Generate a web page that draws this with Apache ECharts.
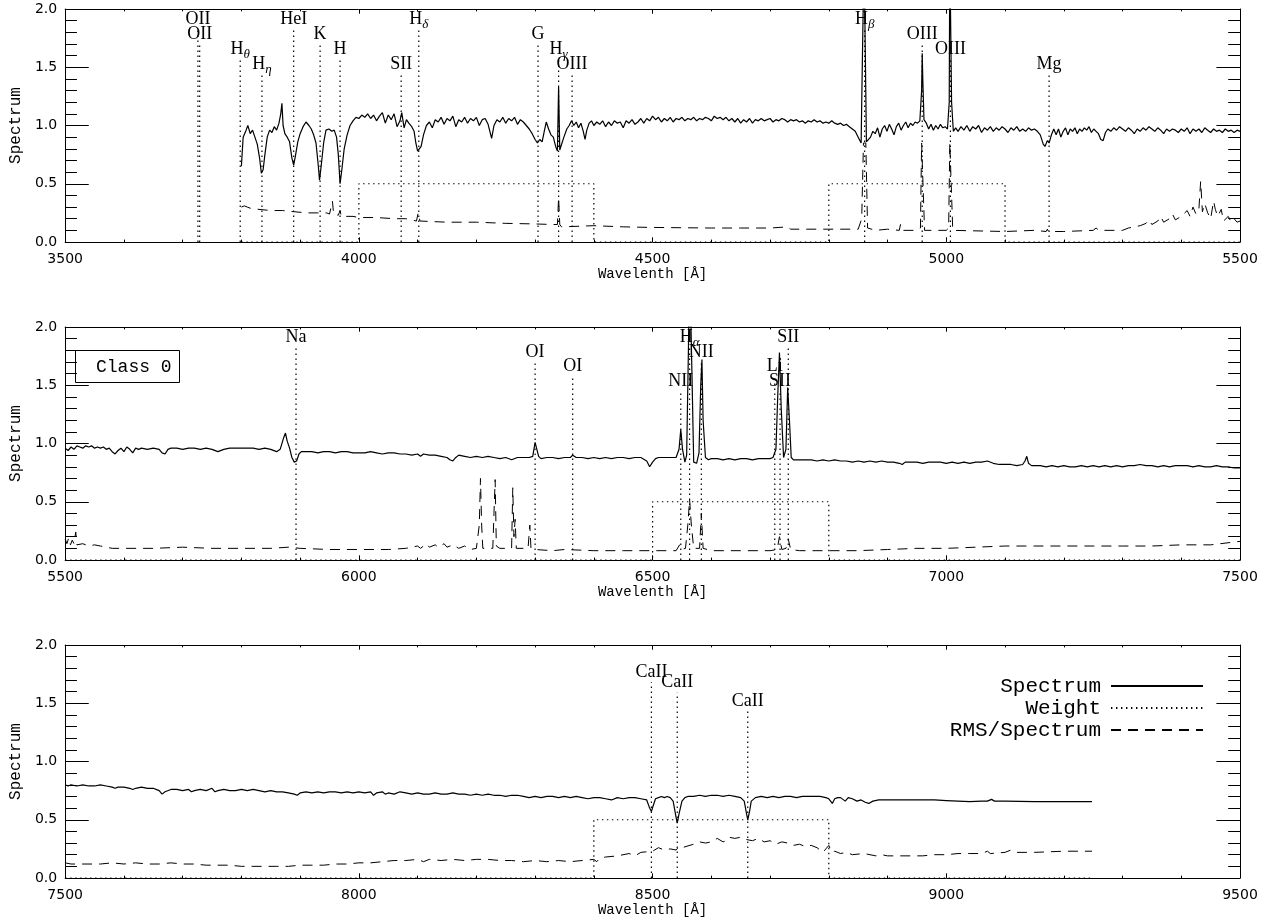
<!DOCTYPE html>
<html><head><meta charset="utf-8">
<script src="https://cdn.jsdelivr.net/npm/echarts@6/dist/echarts.min.js"></script>
<style>html,body{margin:0;padding:0;background:#fff}#c{width:1266px;height:922px}</style>
</head><body><div id="c"></div>
<script>
// ---------- DATA ----------
const xRanges = [[3500, 5500], [5500, 7500], [7500, 9500]];
const yRange = [0, 2];
const xTitle = 'Wavelenth [Å]';
const yTitle = 'Spectrum';
const boxLabel = 'Class 0';
const legendNames = ['Spectrum', 'Weight', 'RMS/Spectrum'];

const spec1 = [[3800,0.65],[3803,0.90],[3808,0.96],[3811,1.00],[3815,0.93],[3819,0.96],[3823,0.90],[3827,0.84],[3831,0.72],[3834,0.59],[3837,0.62],[3840,0.75],[3844,0.90],[3848,0.96],[3852,0.94],[3856,0.99],[3860,0.96],[3864,1.02],[3867,1.10],[3869,1.19],[3871,1.00],[3874,0.93],[3878,0.90],[3882,0.86],[3886,0.72],[3889,0.66],[3892,0.74],[3896,0.86],[3900,0.93],[3905,0.99],[3910,1.03],[3915,1.00],[3919,0.97],[3923,0.92],[3927,0.85],[3931,0.65],[3933,0.53],[3936,0.66],[3940,0.85],[3944,0.96],[3949,0.97],[3954,0.95],[3958,0.96],[3962,0.90],[3965,0.75],[3968,0.50],[3971,0.62],[3975,0.80],[3980,0.92],[3985,1.00],[3990,1.04],[3995,1.07],[4000,1.06],[4005,1.09],[4010,1.07],[4015,1.10],[4020,1.06],[4025,1.09],[4030,1.04],[4035,1.08],[4040,1.11],[4045,1.02],[4050,1.09],[4055,1.05],[4060,1.10],[4065,0.99],[4070,1.04],[4073,1.11],[4077,0.98],[4081,1.05],[4085,1.02],[4090,0.99],[4094,0.95],[4097,0.85],[4100,0.78],[4103,0.79],[4106,0.82],[4110,0.92],[4115,1.00],[4120,1.03],[4125,0.98],[4130,1.05],[4135,1.03],[4140,1.07],[4145,1.01],[4150,1.06],[4155,1.04],[4160,1.08],[4165,0.99],[4170,1.05],[4175,1.03],[4180,1.07],[4185,1.02],[4190,1.06],[4195,1.04],[4200,1.07],[4205,1.00],[4210,1.05],[4215,1.06],[4220,1.01],[4226,0.89],[4230,1.00],[4235,1.05],[4240,1.03],[4245,1.07],[4250,1.02],[4255,1.06],[4260,1.04],[4265,1.07],[4270,1.01],[4275,1.05],[4280,1.03],[4285,1.00],[4290,0.97],[4295,0.93],[4300,0.88],[4304,0.85],[4308,0.88],[4312,0.86],[4316,0.96],[4319,1.03],[4323,0.97],[4327,0.92],[4331,0.90],[4335,0.82],[4338,0.78],[4340,1.33],[4342,0.79],[4345,0.80],[4349,0.90],[4354,0.97],[4358,1.00],[4362,1.04],[4366,1.00],[4370,1.03],[4374,0.98],[4378,1.02],[4382,0.95],[4385,0.88],[4388,0.96],[4392,1.02],[4396,1.04],[4400,1.00],[4405,1.03],[4410,1.01],[4415,1.04],[4420,0.99],[4425,1.03],[4430,1.00],[4435,1.04],[4440,1.02],[4445,1.03],[4450,0.98],[4455,1.04],[4460,1.02],[4465,1.05],[4470,1.01],[4475,1.03],[4480,1.06],[4485,1.02],[4490,1.06],[4495,1.04],[4500,1.08],[4505,1.05],[4510,1.07],[4515,1.03],[4520,1.06],[4525,1.04],[4530,1.07],[4535,1.03],[4540,1.06],[4545,1.05],[4550,1.07],[4555,1.04],[4560,1.06],[4565,1.05],[4570,1.07],[4575,1.04],[4580,1.06],[4585,1.05],[4590,1.07],[4595,1.06],[4600,1.04],[4605,1.08],[4610,1.06],[4615,1.07],[4620,1.05],[4625,1.07],[4630,1.04],[4635,1.06],[4640,1.03],[4645,1.06],[4650,1.02],[4655,1.05],[4660,1.03],[4665,1.06],[4670,1.02],[4675,1.05],[4680,1.04],[4685,1.06],[4690,1.04],[4695,1.05],[4700,1.06],[4705,1.03],[4710,1.05],[4715,1.04],[4720,1.06],[4725,1.05],[4730,1.03],[4735,1.05],[4740,1.04],[4745,1.05],[4750,1.03],[4755,1.04],[4760,1.02],[4765,1.04],[4770,1.03],[4775,1.05],[4780,1.03],[4785,1.04],[4790,1.02],[4795,1.03],[4800,1.02],[4805,1.04],[4810,1.02],[4815,1.01],[4820,1.02],[4825,1.00],[4830,1.01],[4835,0.99],[4840,0.97],[4845,0.95],[4850,0.90],[4855,0.85],[4858,0.86],[4860,2.50],[4862,2.50],[4864,0.86],[4867,0.85],[4871,0.90],[4875,0.95],[4879,0.93],[4883,0.98],[4887,0.90],[4891,0.97],[4895,1.00],[4899,0.95],[4903,1.01],[4907,0.97],[4911,0.92],[4915,0.99],[4919,1.02],[4923,0.96],[4927,1.00],[4931,1.03],[4935,0.98],[4939,1.02],[4943,1.00],[4947,1.03],[4951,1.02],[4955,1.04],[4958,1.30],[4959,1.62],[4960,1.40],[4962,1.05],[4966,1.02],[4970,0.97],[4974,1.01],[4978,0.96],[4982,1.00],[4986,0.97],[4990,1.01],[4994,0.98],[4998,0.99],[5002,0.97],[5005,1.20],[5006,2.50],[5008,2.50],[5009,1.20],[5012,0.95],[5016,0.98],[5020,0.95],[5025,0.99],[5030,0.96],[5035,1.00],[5040,0.95],[5045,0.99],[5050,0.97],[5055,1.00],[5060,0.94],[5065,0.98],[5070,0.96],[5075,0.99],[5080,0.95],[5085,0.98],[5090,0.96],[5095,0.99],[5100,0.97],[5105,0.94],[5110,0.98],[5115,0.96],[5120,0.99],[5125,0.95],[5130,0.97],[5135,0.95],[5140,0.98],[5145,0.96],[5150,0.97],[5155,0.95],[5160,0.92],[5165,0.84],[5168,0.82],[5172,0.87],[5175,0.85],[5179,0.92],[5183,0.97],[5187,0.92],[5191,0.97],[5195,0.90],[5199,0.95],[5203,0.98],[5207,0.92],[5211,0.97],[5215,0.95],[5219,0.98],[5223,0.93],[5227,0.97],[5231,0.95],[5235,0.98],[5239,0.96],[5243,0.99],[5247,0.94],[5251,0.97],[5255,0.95],[5259,0.93],[5263,0.88],[5267,0.87],[5271,0.94],[5275,0.97],[5280,0.95],[5285,0.98],[5290,0.96],[5295,0.99],[5300,0.97],[5305,0.95],[5310,0.98],[5315,0.96],[5320,0.93],[5325,0.97],[5330,0.95],[5335,0.98],[5340,0.96],[5345,0.99],[5350,0.97],[5355,0.95],[5360,0.98],[5365,0.96],[5370,0.93],[5375,0.97],[5380,0.95],[5385,0.97],[5390,0.96],[5395,0.94],[5400,0.97],[5405,0.95],[5410,0.98],[5415,0.93],[5420,0.97],[5425,0.95],[5430,0.97],[5435,0.94],[5440,0.98],[5445,0.96],[5450,0.94],[5455,0.97],[5460,0.95],[5465,0.96],[5470,0.94],[5475,0.97],[5480,0.95],[5485,0.96],[5490,0.94],[5495,0.96],[5500,0.95]];

const rms1 = [[3800,0.30],[3805,0.31],[3810,0.30],[3815,0.29],[3830,0.28],[3850,0.27],[3870,0.27],[3890,0.26],[3910,0.25],[3930,0.25],[3945,0.25],[3950,0.24],[3955,0.35],[3957,0.24],[3965,0.23],[3968,0.27],[3970,0.22],[3990,0.22],[4000,0.21],[4030,0.21],[4060,0.20],[4080,0.20],[4098,0.18],[4101,0.25],[4104,0.18],[4150,0.17],[4200,0.17],[4250,0.16],[4300,0.155],[4330,0.15],[4338,0.15],[4340,0.38],[4342,0.15],[4345,0.13],[4400,0.14],[4450,0.13],[4500,0.125],[4600,0.12],[4650,0.12],[4700,0.12],[4730,0.13],[4735,0.11],[4800,0.11],[4850,0.11],[4856,0.20],[4859,0.85],[4863,0.85],[4866,0.12],[4880,0.10],[4900,0.11],[4920,0.10],[4922,0.15],[4924,0.10],[4950,0.10],[4956,0.12],[4958,0.85],[4961,0.85],[4963,0.10],[5000,0.10],[5004,0.12],[5006,0.85],[5009,0.85],[5011,0.10],[5100,0.09],[5150,0.10],[5170,0.09],[5172,0.11],[5174,0.09],[5200,0.09],[5250,0.10],[5255,0.12],[5260,0.10],[5300,0.10],[5310,0.12],[5320,0.13],[5330,0.14],[5340,0.16],[5345,0.19],[5350,0.15],[5360,0.18],[5365,0.22],[5370,0.17],[5380,0.20],[5385,0.24],[5390,0.19],[5400,0.22],[5410,0.27],[5415,0.22],[5420,0.30],[5425,0.24],[5430,0.28],[5433,0.52],[5436,0.26],[5440,0.33],[5445,0.25],[5450,0.20],[5455,0.35],[5458,0.28],[5462,0.22],[5468,0.28],[5472,0.18],[5480,0.22],[5485,0.17],[5490,0.20],[5495,0.17],[5500,0.18]];

const weight1 = [[3800,0],[4000,0],[4000,0.5],[4400,0.5],[4400,0],[4800,0],[4800,0.5],[5100,0.5],[5100,0],[5500,0]];

const spec2 = [[5500,0.96],[5505,0.94],[5510,0.97],[5515,0.95],[5520,0.98],[5525,0.97],[5530,0.96],[5535,0.98],[5540,0.97],[5545,0.98],[5550,0.96],[5555,0.97],[5560,0.96],[5565,0.97],[5570,0.95],[5575,0.96],[5580,0.93],[5585,0.91],[5590,0.94],[5595,0.96],[5600,0.93],[5605,0.97],[5610,0.95],[5615,0.92],[5620,0.96],[5625,0.95],[5630,0.96],[5640,0.95],[5650,0.96],[5660,0.95],[5665,0.92],[5670,0.91],[5675,0.95],[5680,0.96],[5690,0.96],[5700,0.95],[5710,0.96],[5720,0.96],[5730,0.95],[5740,0.96],[5750,0.95],[5760,0.93],[5770,0.95],[5780,0.96],[5790,0.96],[5800,0.96],[5810,0.96],[5820,0.96],[5830,0.95],[5840,0.96],[5850,0.95],[5860,0.93],[5866,0.95],[5872,1.05],[5875,1.09],[5878,1.02],[5882,0.96],[5886,0.88],[5890,0.84],[5894,0.85],[5898,0.91],[5902,0.93],[5910,0.93],[5920,0.93],[5930,0.92],[5940,0.93],[5950,0.93],[5960,0.92],[5970,0.93],[5980,0.93],[5990,0.92],[6000,0.92],[6010,0.92],[6020,0.93],[6030,0.92],[6040,0.91],[6050,0.92],[6060,0.92],[6070,0.91],[6080,0.91],[6090,0.90],[6100,0.91],[6105,0.89],[6110,0.91],[6120,0.90],[6130,0.90],[6140,0.89],[6150,0.88],[6155,0.86],[6160,0.85],[6165,0.88],[6170,0.90],[6180,0.89],[6190,0.88],[6200,0.89],[6210,0.88],[6220,0.89],[6230,0.88],[6240,0.87],[6250,0.88],[6260,0.86],[6270,0.88],[6280,0.88],[6290,0.88],[6296,0.89],[6300,1.01],[6303,0.95],[6306,0.89],[6310,0.87],[6320,0.88],[6330,0.88],[6340,0.87],[6350,0.88],[6360,0.88],[6364,0.90],[6370,0.88],[6380,0.88],[6390,0.87],[6400,0.88],[6410,0.87],[6420,0.88],[6430,0.87],[6440,0.88],[6450,0.88],[6460,0.87],[6470,0.88],[6480,0.88],[6490,0.85],[6495,0.80],[6500,0.84],[6505,0.87],[6510,0.88],[6520,0.88],[6530,0.88],[6540,0.88],[6545,0.95],[6548,1.12],[6551,0.95],[6555,0.84],[6558,0.90],[6561,1.80],[6563,2.60],[6565,2.60],[6567,1.60],[6570,0.84],[6575,0.83],[6579,0.92],[6582,1.50],[6584,1.72],[6586,1.20],[6590,0.88],[6595,0.86],[6600,0.87],[6610,0.87],[6620,0.86],[6630,0.87],[6640,0.86],[6650,0.87],[6660,0.87],[6670,0.86],[6680,0.87],[6690,0.87],[6700,0.87],[6705,0.88],[6710,0.95],[6713,1.40],[6716,1.78],[6719,1.30],[6723,0.88],[6727,0.95],[6730,1.48],[6733,1.20],[6736,0.88],[6740,0.86],[6750,0.86],[6760,0.86],[6770,0.86],[6780,0.85],[6790,0.86],[6800,0.85],[6810,0.86],[6820,0.85],[6830,0.85],[6840,0.84],[6850,0.85],[6860,0.84],[6870,0.85],[6880,0.84],[6890,0.85],[6900,0.84],[6910,0.84],[6920,0.83],[6925,0.82],[6930,0.84],[6940,0.84],[6950,0.84],[6960,0.83],[6970,0.84],[6980,0.84],[6990,0.84],[7000,0.83],[7010,0.84],[7020,0.83],[7030,0.84],[7040,0.83],[7050,0.84],[7060,0.84],[7070,0.85],[7080,0.83],[7090,0.82],[7100,0.82],[7110,0.82],[7120,0.81],[7130,0.82],[7134,0.85],[7137,0.89],[7140,0.83],[7145,0.81],[7150,0.81],[7160,0.81],[7170,0.80],[7180,0.81],[7190,0.80],[7200,0.81],[7210,0.80],[7220,0.80],[7230,0.81],[7240,0.80],[7250,0.81],[7260,0.80],[7270,0.81],[7280,0.80],[7290,0.81],[7300,0.80],[7310,0.81],[7320,0.81],[7330,0.82],[7340,0.81],[7350,0.81],[7360,0.80],[7370,0.81],[7380,0.80],[7390,0.81],[7400,0.81],[7410,0.81],[7420,0.80],[7430,0.81],[7440,0.80],[7450,0.80],[7460,0.81],[7470,0.80],[7480,0.80],[7490,0.79],[7500,0.79]];

const rms2 = [[5500,0.18],[5503,0.14],[5506,0.19],[5509,0.13],[5512,0.17],[5515,0.14],[5518,0.24],[5520,0.13],[5530,0.14],[5540,0.12],[5550,0.13],[5560,0.12],[5580,0.10],[5600,0.10],[5650,0.10],[5700,0.11],[5750,0.10],[5800,0.10],[5850,0.10],[5880,0.11],[5900,0.10],[5950,0.09],[6000,0.09],[6050,0.09],[6080,0.10],[6100,0.12],[6105,0.10],[6115,0.14],[6120,0.11],[6130,0.13],[6135,0.11],[6145,0.14],[6150,0.11],[6160,0.13],[6170,0.10],[6180,0.12],[6190,0.09],[6200,0.10],[6205,0.30],[6207,0.70],[6209,0.30],[6211,0.10],[6228,0.10],[6230,0.40],[6232,0.69],[6234,0.12],[6240,0.10],[6260,0.10],[6262,0.62],[6264,0.20],[6266,0.35],[6268,0.10],[6288,0.10],[6291,0.30],[6293,0.10],[6300,0.09],[6330,0.08],[6350,0.09],[6400,0.08],[6450,0.08],[6500,0.08],[6540,0.08],[6546,0.13],[6549,0.09],[6556,0.10],[6560,0.30],[6563,0.52],[6566,0.30],[6570,0.10],[6580,0.10],[6583,0.40],[6586,0.10],[6600,0.08],[6650,0.08],[6700,0.08],[6712,0.09],[6716,0.20],[6720,0.09],[6727,0.10],[6731,0.18],[6735,0.09],[6750,0.08],[6800,0.08],[6850,0.08],[6900,0.09],[6950,0.10],[7000,0.10],[7050,0.11],[7100,0.12],[7150,0.12],[7200,0.12],[7250,0.12],[7300,0.12],[7350,0.12],[7400,0.13],[7450,0.13],[7500,0.16]];

const weight2 = [[5500,0],[6500,0],[6500,0.5],[6800,0.5],[6800,0],[7500,0]];

const spec3 = [[7500,0.80],[7505,0.79],[7510,0.80],[7520,0.79],[7530,0.80],[7540,0.79],[7550,0.79],[7560,0.80],[7570,0.79],[7580,0.78],[7585,0.77],[7590,0.78],[7600,0.78],[7610,0.77],[7615,0.76],[7620,0.77],[7630,0.78],[7640,0.77],[7650,0.77],[7660,0.75],[7665,0.72],[7670,0.74],[7680,0.76],[7690,0.76],[7700,0.75],[7710,0.76],[7715,0.74],[7720,0.75],[7730,0.76],[7740,0.75],[7750,0.77],[7755,0.74],[7760,0.75],[7770,0.76],[7780,0.75],[7790,0.75],[7800,0.76],[7810,0.75],[7820,0.76],[7830,0.75],[7840,0.74],[7850,0.75],[7860,0.74],[7870,0.74],[7880,0.73],[7890,0.72],[7895,0.71],[7900,0.73],[7910,0.74],[7920,0.73],[7930,0.74],[7940,0.73],[7950,0.74],[7960,0.74],[7970,0.73],[7980,0.74],[7990,0.73],[8000,0.74],[8010,0.73],[8020,0.74],[8025,0.71],[8030,0.73],[8040,0.74],[8045,0.72],[8050,0.73],[8060,0.72],[8070,0.74],[8080,0.73],[8090,0.72],[8100,0.73],[8110,0.72],[8120,0.72],[8130,0.73],[8140,0.72],[8150,0.72],[8160,0.73],[8170,0.72],[8180,0.72],[8190,0.71],[8200,0.72],[8210,0.71],[8220,0.72],[8230,0.71],[8240,0.71],[8250,0.70],[8260,0.71],[8270,0.71],[8280,0.70],[8290,0.69],[8300,0.70],[8310,0.69],[8320,0.70],[8330,0.70],[8340,0.69],[8350,0.70],[8360,0.69],[8370,0.70],[8380,0.69],[8390,0.68],[8400,0.69],[8410,0.69],[8420,0.68],[8430,0.67],[8440,0.69],[8450,0.68],[8460,0.69],[8470,0.69],[8480,0.68],[8490,0.67],[8495,0.60],[8498,0.57],[8501,0.62],[8505,0.68],[8510,0.69],[8515,0.70],[8520,0.69],[8525,0.70],[8530,0.69],[8535,0.66],[8540,0.52],[8542,0.47],[8545,0.55],[8550,0.66],[8555,0.69],[8560,0.70],[8570,0.70],[8580,0.71],[8590,0.70],[8600,0.71],[8610,0.71],[8620,0.70],[8630,0.71],[8640,0.70],[8650,0.69],[8656,0.66],[8660,0.55],[8662,0.50],[8665,0.57],[8668,0.66],[8675,0.69],[8685,0.70],[8695,0.69],[8705,0.70],[8715,0.69],[8725,0.70],[8735,0.70],[8745,0.69],[8755,0.70],[8765,0.70],[8775,0.70],[8785,0.70],[8795,0.69],[8800,0.68],[8806,0.64],[8810,0.68],[8815,0.69],[8820,0.69],[8828,0.66],[8833,0.69],[8840,0.68],[8848,0.66],[8855,0.67],[8862,0.65],[8868,0.64],[8875,0.66],[8885,0.67],[8900,0.67],[8920,0.67],[8940,0.67],[8960,0.67],[8980,0.67],[9000,0.665],[9020,0.66],[9040,0.655],[9060,0.66],[9070,0.66],[9077,0.675],[9082,0.66],[9100,0.66],[9150,0.655],[9200,0.655],[9248,0.655]];

const rms3 = [[7500,0.13],[7510,0.12],[7530,0.12],[7560,0.12],[7580,0.13],[7600,0.12],[7620,0.13],[7640,0.12],[7660,0.12],[7680,0.13],[7700,0.12],[7720,0.12],[7740,0.11],[7760,0.11],[7780,0.11],[7800,0.10],[7820,0.10],[7840,0.10],[7860,0.10],[7880,0.10],[7900,0.11],[7920,0.11],[7940,0.11],[7960,0.12],[7980,0.12],[8000,0.13],[8020,0.13],[8040,0.14],[8060,0.15],[8080,0.15],[8100,0.16],[8110,0.14],[8120,0.16],[8140,0.15],[8160,0.16],[8180,0.15],[8200,0.16],[8220,0.16],[8240,0.15],[8260,0.15],[8280,0.14],[8300,0.15],[8320,0.14],[8340,0.15],[8360,0.14],[8380,0.15],[8400,0.16],[8405,0.14],[8410,0.17],[8420,0.18],[8440,0.19],[8460,0.21],[8470,0.19],[8480,0.22],[8500,0.23],[8510,0.26],[8520,0.24],[8530,0.25],[8540,0.24],[8545,0.27],[8550,0.26],[8570,0.29],[8580,0.31],[8590,0.30],[8600,0.31],[8610,0.34],[8620,0.31],[8625,0.32],[8630,0.35],[8640,0.34],[8650,0.35],[8660,0.33],[8670,0.32],[8680,0.34],[8690,0.31],[8700,0.32],[8710,0.29],[8720,0.31],[8730,0.30],[8740,0.28],[8750,0.29],[8760,0.27],[8770,0.28],[8780,0.26],[8790,0.22],[8795,0.25],[8800,0.28],[8805,0.22],[8810,0.23],[8820,0.21],[8830,0.22],[8840,0.20],[8860,0.21],[8880,0.19],[8890,0.20],[8900,0.19],[8920,0.19],[8940,0.19],[8960,0.19],[8980,0.20],[9000,0.20],[9020,0.21],[9040,0.21],[9060,0.21],[9070,0.23],[9075,0.21],[9100,0.22],[9110,0.24],[9120,0.22],[9150,0.22],[9200,0.23],[9248,0.23]];

const weight3 = [[7500,0],[8400,0],[8400,0.5],[8800,0.5],[8800,0],[9250,0]];

// line identifications: name, wavelength, top of marker (data units)
const lineNames1 = ['OII','OII','H_θ','H_η','HeI','K','H','SII','H_δ','G','H_γ','OIII','H_β','OIII','OIII','Mg'];
const lineWaves1 = [3726,3729,3798,3835,3889,3934,3968,4072,4102,4305,4340,4363,4861,4959,5007,5175];
const lineTops1  = [1.83,1.70,1.57,1.44,1.83,1.70,1.57,1.44,1.83,1.70,1.57,1.44,1.83,1.70,1.57,1.44];

const lineNames2 = ['Na','OI','OI','NII','H_α','NII','Li','SII','SII'];
const lineWaves2 = [5893,6300,6364,6548,6563,6583,6708,6717,6731];
const lineTops2  = [1.83,1.70,1.58,1.45,1.83,1.70,1.58,1.45,1.83];

const lineNames3 = ['CaII','CaII','CaII'];
const lineWaves3 = [8498,8542,8662];
const lineTops3  = [1.68,1.59,1.43];

// ---------- BUILD ----------
const panels = [
  {spec: spec1, rms: rms1, weight: weight1, names: lineNames1, waves: lineWaves1, tops: lineTops1},
  {spec: spec2, rms: rms2, weight: weight2, names: lineNames2, waves: lineWaves2, tops: lineTops2},
  {spec: spec3, rms: rms3, weight: weight3, names: lineNames3, waves: lineWaves3, tops: lineTops3}
];
const gridTops = [9, 327, 645];
const DOT = [1.4, 3.6];
const DASH = [10, 7];
const monoFont = 'Liberation Mono';

const grid = [], xAxis = [], yAxis = [], series = [];
panels.forEach((p, i) => {
  grid.push({left: 61, width: 1179, top: gridTops[i], height: 233});
  const axLine = {show: true, onZero: false, lineStyle: {color: '#000', width: 1}};
  const xBase = {
    type: 'value', gridIndex: i, min: xRanges[i][0], max: xRanges[i][1], interval: 500,
    axisLine: axLine, splitLine: {show: false},
    axisTick: {show: true, inside: true, length: 4.7, lineStyle: {color: '#000', width: 1}},
    minorTick: {show: true, splitNumber: 5, length: 2.4, lineStyle: {color: '#000', width: 1}}
  };
  xAxis.push(Object.assign({}, xBase, {
    position: 'bottom', name: xTitle, nameLocation: 'middle', nameGap: 24,
    nameTextStyle: {fontFamily: monoFont, fontSize: 14, color: '#000'},
    axisLabel: {show: true, margin: 10, color: '#000', fontFamily: 'DejaVu Sans', fontSize: 14,
      formatter: v => String(v)}
  }));
  xAxis.push(Object.assign({}, xBase, {position: 'top', axisLabel: {show: false}}));
  const yBase = {
    type: 'value', gridIndex: i, min: yRange[0], max: yRange[1], interval: 0.5,
    axisLine: axLine, splitLine: {show: false},
    axisTick: {show: true, inside: true, length: 23.6, lineStyle: {color: '#000', width: 1}},
    minorTick: {show: true, splitNumber: 5, length: 11.8, lineStyle: {color: '#000', width: 1}}
  };
  yAxis.push(Object.assign({}, yBase, {
    position: 'left', name: yTitle, nameLocation: 'middle', nameGap: 41, nameRotate: 90,
    nameTextStyle: {fontFamily: monoFont, fontSize: 16, color: '#000'},
    axisLabel: {show: true, margin: 8, color: '#000', fontFamily: 'DejaVu Sans', fontSize: 14,
      formatter: v => v.toFixed(1)}
  }));
  yAxis.push(Object.assign({}, yBase, {position: 'right', axisLabel: {show: false}}));

  const xi = 2 * i, yi = 2 * i;
  // marker lines (broken with '-')
  const mk = [];
  p.waves.forEach((w, k) => { mk.push([w, 0], [w, p.tops[k]], [w, '-']); });
  series.push({name: 'markers', type: 'line', xAxisIndex: xi, yAxisIndex: yi, data: mk,
    symbol: 'none', silent: true, connectNulls: false,
    lineStyle: {color: '#000', width: 1.2, type: DOT}, z: 2});
  // marker labels
  series.push({name: 'labels', type: 'scatter', xAxisIndex: xi, yAxisIndex: yi,
    data: p.waves.map((w, k) => [w, p.tops[k]]), symbolSize: 0, silent: true,
    itemStyle: {color: '#000', opacity: 1},
    label: {show: true, position: 'top', distance: 1, color: '#000', opacity: 1,
      textBorderWidth: 0,
      formatter: q => {
        const s = p.names[q.dataIndex];
        const parts = s.split('_');
        return parts.length > 1 ? '{m|' + parts[0] + '}{s|' + parts[1] + '}' : '{m|' + s + '}';
      },
      rich: {
        m: {fontFamily: 'Liberation Serif', fontSize: 18, lineHeight: 18, color: '#000'},
        s: {fontFamily: 'Liberation Serif', fontSize: 13, fontStyle: 'italic', lineHeight: 13,
            padding: [11, 0, 0, 0], color: '#000'}
      }
    }, z: 5});
  series.push({name: 'Weight', type: 'line', xAxisIndex: xi, yAxisIndex: yi, data: p.weight,
    symbol: 'none', silent: true, itemStyle: {color: '#000'},
    lineStyle: {color: '#000', width: 1.2, type: DOT}, z: 3});
  series.push({name: 'RMS/Spectrum', type: 'line', xAxisIndex: xi, yAxisIndex: yi, data: p.rms,
    symbol: 'none', silent: true, itemStyle: {color: '#000'},
    lineStyle: {color: '#000', width: 1, type: DASH}, z: 3});
  series.push({name: 'Spectrum', type: 'line', xAxisIndex: xi, yAxisIndex: yi, data: p.spec,
    symbol: 'none', silent: true, clip: true, itemStyle: {color: '#000'},
    lineStyle: {color: '#000', width: 1.2}, z: 4});
});

const legendTops = [675.5, 697.5, 719.5];
const legend = legendNames.map((n, k) => ({
  data: [n], right: 62, top: legendTops[k], orient: 'horizontal', align: 'right',
  itemWidth: 92, itemHeight: 12, padding: 0, selectedMode: false,
  itemStyle: {opacity: 0},
  textStyle: {fontFamily: monoFont, fontSize: 21, color: '#000', padding: [0, 5, 0, 0]}
}));

const chart = echarts.init(document.getElementById('c'), null, {renderer: 'canvas'});
chart.setOption({
  animation: false,
  backgroundColor: '#fff',
  title: {text: boxLabel, left: 75, top: 350, borderColor: '#000', borderWidth: 1,
    padding: [8, 8, 7, 21],
    textStyle: {fontFamily: monoFont, fontSize: 18, fontWeight: 'normal', color: '#000'}},
  legend: legend,
  grid: grid, xAxis: xAxis, yAxis: yAxis, series: series
});
</script></body></html>
